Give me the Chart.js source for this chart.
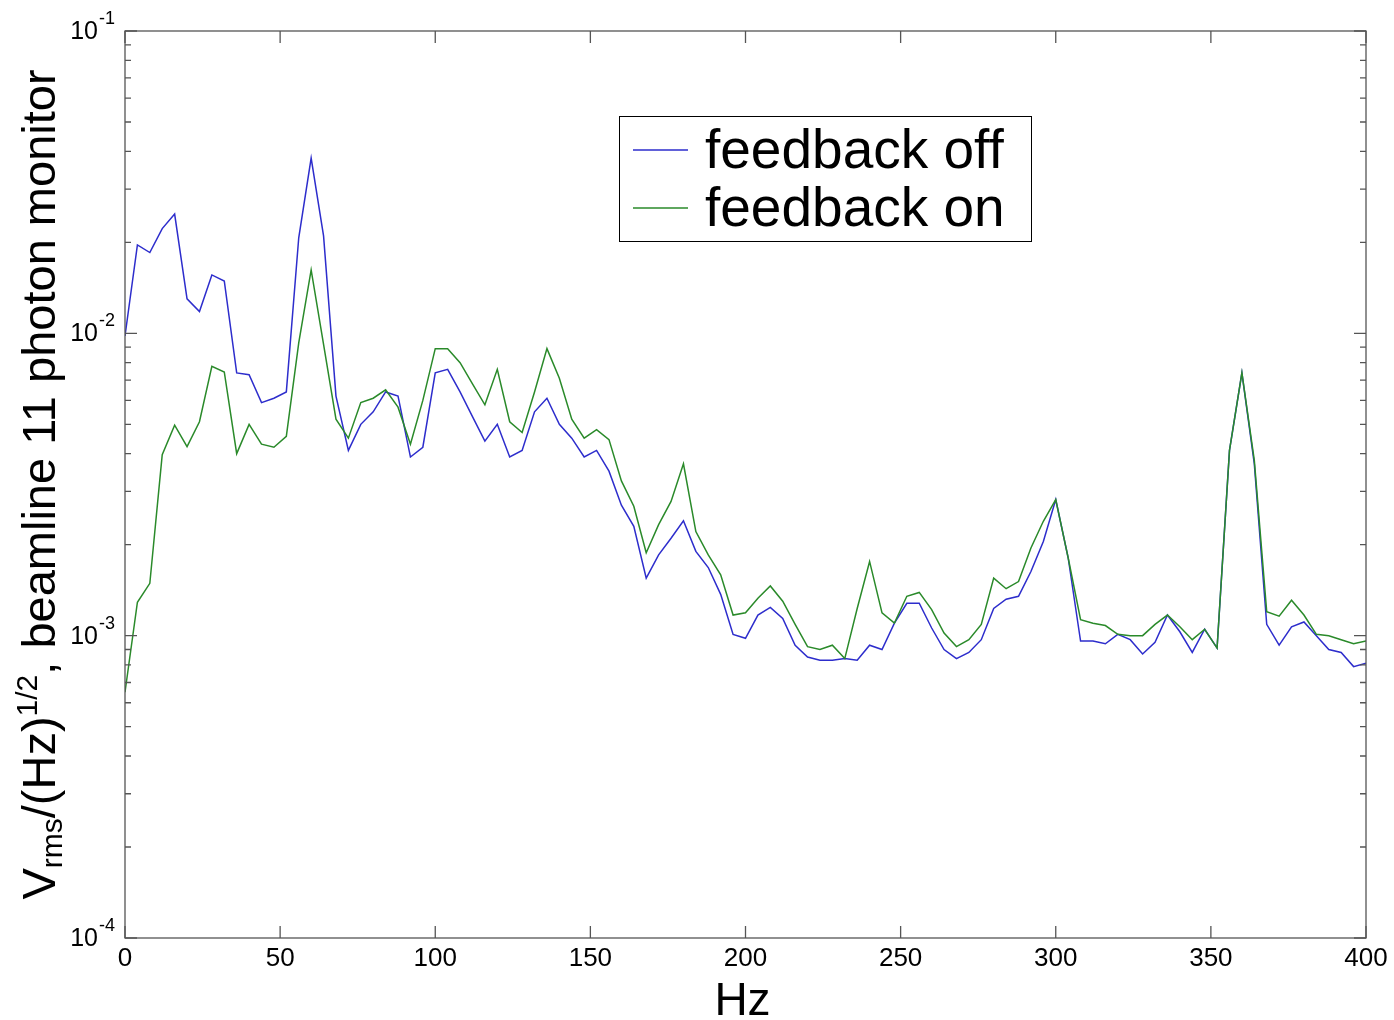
<!DOCTYPE html>
<html>
<head>
<meta charset="utf-8">
<script src="https://cdn.jsdelivr.net/npm/chart.js@4.4.0/dist/chart.umd.min.js"></script>
<style>
  html, body { margin: 0; padding: 0; background: #fff; }
</style>
</head>
<body>
<canvas id="canvas" width="1394" height="1020"></canvas>
<script>
// frequency axis (Hz)
const freqHz = [
    0, 4, 8, 12, 16, 20, 24, 28, 32, 36,
    40, 44, 48, 52, 56, 60, 64, 68, 72, 76,
    80, 84, 88, 92, 96, 100, 104, 108, 112, 116,
    120, 124, 128, 132, 136, 140, 144, 148, 152, 156,
    160, 164, 168, 172, 176, 180, 184, 188, 192, 196,
    200, 204, 208, 212, 216, 220, 224, 228, 232, 236,
    240, 244, 248, 252, 256, 260, 264, 268, 272, 276,
    280, 284, 288, 292, 296, 300, 304, 308, 312, 316,
    320, 324, 328, 332, 336, 340, 344, 348, 352, 356,
    360, 364, 368, 372, 376, 380, 384, 388, 392, 396,
    400
]
const feedbackOff = [
    0.0098, 0.0196, 0.0185, 0.0222, 0.0248, 0.0130, 0.0118, 0.0156, 0.0149, 0.0074,
    0.0073, 0.0059, 0.0061, 0.0064, 0.0207, 0.038, 0.021, 0.0062, 0.0041, 0.0050,
    0.0055, 0.0064, 0.0062, 0.0039, 0.0042, 0.0074, 0.0076, 0.0064, 0.0053, 0.0044,
    0.0050, 0.0039, 0.0041, 0.0055, 0.0061, 0.0050, 0.0045, 0.0039, 0.0041, 0.0035,
    0.0027, 0.0023, 0.00155, 0.00185, 0.0021, 0.0024, 0.0019, 0.00168, 0.00137, 0.00101,
    0.00098, 0.00117, 0.00124, 0.00114, 0.00093, 0.00085, 0.00083, 0.00083, 0.00084, 0.00083,
    0.00093, 0.00090, 0.0011, 0.00128, 0.00128, 0.00106, 0.00090, 0.00084, 0.00088, 0.00097,
    0.00123, 0.00132, 0.00135, 0.00163, 0.00205, 0.00282, 0.00181, 0.00096, 0.00096, 0.00094,
    0.00101, 0.00097, 0.00087, 0.00095, 0.00117, 0.00103, 0.00088, 0.00105, 0.00091, 0.0041,
    0.0074, 0.0037, 0.00109, 0.00093, 0.00107, 0.00111, 0.0010, 0.00090, 0.00088, 0.00079,
    0.00081
]
const feedbackOn = [
    0.00065, 0.00129, 0.00149, 0.00397, 0.00497, 0.00422, 0.0051, 0.00778, 0.00745, 0.0040,
    0.0050, 0.0043, 0.0042, 0.00456, 0.0093, 0.0162, 0.0092, 0.0052, 0.0045, 0.0059,
    0.0061, 0.0065, 0.0057, 0.0043, 0.0060, 0.0089, 0.0089, 0.0080, 0.0068, 0.0058,
    0.0076, 0.0051, 0.0047, 0.0064, 0.0089, 0.0071, 0.0052, 0.0045, 0.0048, 0.00445,
    0.00325, 0.00268, 0.00188, 0.00233, 0.00278, 0.0037, 0.00221, 0.00185, 0.00159, 0.00117,
    0.00119, 0.00133, 0.00146, 0.0013, 0.00109, 0.00092, 0.0009, 0.00093, 0.00084, 0.00123,
    0.00176, 0.00119, 0.0011, 0.00135, 0.00139, 0.00122, 0.00102, 0.00092, 0.00097, 0.00109,
    0.00155, 0.00143, 0.00151, 0.00195, 0.00239, 0.00282, 0.00181, 0.00113, 0.0011, 0.00108,
    0.00101, 0.0010, 0.0010, 0.00109, 0.00117, 0.00107, 0.00097, 0.00105, 0.00091, 0.0041,
    0.0074, 0.0038, 0.0012, 0.00116, 0.00131, 0.00117, 0.00101, 0.0010, 0.00097, 0.00094,
    0.00096
]
const xTicks = [0, 50, 100, 150, 200, 250, 300, 350, 400]
const yDecades = [1e-4, 1e-3, 1e-2, 1e-1]
const yExponents = ["-4", "-3", "-2", "-1"]
const seriesLabels = ["feedback off", "feedback on"]
const seriesColors = ["#2d2dcc", "#2a8a2a"]

const FONT = "'Liberation Sans', Arial, Helvetica, sans-serif"

// MATLAB-style box, inward ticks, superscript labels, legend box
const matlabAxes = {
    id: "matlabAxes",
    beforeDraw(chart) {
        let ctx = chart.ctx
        ctx.save()
        ctx.fillStyle = "#fff"
        ctx.fillRect(0, 0, chart.width, chart.height)
        ctx.restore()
    },
    afterDraw(chart) {
        let ctx = chart.ctx
        let { left, right, top, bottom } = chart.chartArea
        let xs = chart.scales.x
        let ys = chart.scales.y
        ctx.save()

        // frame
        ctx.strokeStyle = "#555"
        ctx.lineWidth = 1.3
        ctx.strokeRect(left, top, right - left, bottom - top)

        // x ticks + labels
        ctx.fillStyle = "#000"
        ctx.font = "26px " + FONT
        ctx.textAlign = "center"
        ctx.textBaseline = "middle"
        xTicks.forEach(v => {
            let px = xs.getPixelForValue(v)
            ctx.beginPath()
            ctx.moveTo(px, bottom); ctx.lineTo(px, bottom - 12)
            ctx.moveTo(px, top); ctx.lineTo(px, top + 12)
            ctx.stroke()
            ctx.fillText(String(v), px, bottom + 21)
        })

        // y ticks (major + minor)
        yDecades.forEach(d => {
            for (let m = 1; m <= 9; m++) {
                let v = d * m
                if (v > 0.1 + 1e-12) break
                let py = ys.getPixelForValue(v)
                let len = m === 1 ? 12 : 6
                ctx.beginPath()
                ctx.moveTo(left, py); ctx.lineTo(left + len, py)
                ctx.moveTo(right, py); ctx.lineTo(right - len, py)
                ctx.stroke()
            }
        })

        // y labels 10^n
        yDecades.forEach((d, i) => {
            let py = ys.getPixelForValue(d)
            ctx.font = "25px " + FONT
            ctx.textAlign = "right"
            ctx.textBaseline = "middle"
            ctx.fillText("10", 98, py + 1)
            ctx.font = "18px " + FONT
            ctx.textAlign = "left"
            ctx.fillText(yExponents[i], 99, py - 12)
        })

        // x title
        ctx.font = "46px " + FONT
        ctx.textAlign = "center"
        ctx.textBaseline = "alphabetic"
        ctx.fillText("Hz", (left + right) / 2 - 3, 1015)

        // y title with sub/superscript
        let parts = [
            { t: "V", s: 47, dy: 0 },
            { t: "rms", s: 30, dy: 7 },
            { t: "/(Hz)", s: 47, dy: 0 },
            { t: "1/2", s: 30, dy: -18 },
            { t: ", beamline 11 photon monitor", s: 47, dy: 0 }
        ]
        let total = 0
        parts.forEach(p => {
            ctx.font = p.s + "px " + FONT
            p.w = ctx.measureText(p.t).width
            total += p.w
        })
        ctx.translate(55, (top + bottom) / 2)
        ctx.rotate(-Math.PI / 2)
        ctx.textAlign = "left"
        let cx = -total / 2
        parts.forEach(p => {
            ctx.font = p.s + "px " + FONT
            ctx.fillText(p.t, cx, p.dy)
            cx += p.w
        })
        ctx.setTransform(1, 0, 0, 1, 0, 0)

        // legend
        ctx.fillStyle = "#fff"
        ctx.fillRect(619, 116, 412, 125)
        ctx.strokeStyle = "#000"
        ctx.lineWidth = 1
        ctx.strokeRect(619.5, 116.5, 412, 125)
        ctx.font = "55px " + FONT
        ctx.textAlign = "left"
        ctx.textBaseline = "alphabetic"
        seriesLabels.forEach((lab, i) => {
            let ly = 150 + i * 58
            ctx.strokeStyle = seriesColors[i]
            ctx.lineWidth = 1.5
            ctx.beginPath()
            ctx.moveTo(633, ly); ctx.lineTo(688, ly)
            ctx.stroke()
            ctx.fillStyle = "#000"
            ctx.fillText(lab, 705, ly + 18)
        })
        ctx.restore()
    }
}

let canvas = document.getElementById("canvas").getContext("2d")

const config = {
    type: "line",
    data: {
        datasets: [
            {
                label: seriesLabels[0],
                data: freqHz.map((f, i) => ({ x: f, y: feedbackOff[i] })),
                borderColor: seriesColors[0],
                borderWidth: 1.5,
                pointRadius: 0,
                tension: 0,
                fill: false,
                order: 2
            },
            {
                label: seriesLabels[1],
                data: freqHz.map((f, i) => ({ x: f, y: feedbackOn[i] })),
                borderColor: seriesColors[1],
                borderWidth: 1.5,
                pointRadius: 0,
                tension: 0,
                fill: false,
                order: 1
            }
        ]
    },
    options: {
        responsive: false,
        animation: false,
        layout: {
            padding: { left: 125, top: 31, right: 28, bottom: 82 }
        },
        plugins: {
            legend: { display: false },
            tooltip: { enabled: false }
        },
        scales: {
            x: {
                type: "linear",
                min: 0,
                max: 400,
                display: false
            },
            y: {
                type: "logarithmic",
                min: 1e-4,
                max: 1e-1,
                display: false
            }
        }
    },
    plugins: [matlabAxes]
}

let chart = new Chart(canvas, config)
</script>
</body>
</html>
